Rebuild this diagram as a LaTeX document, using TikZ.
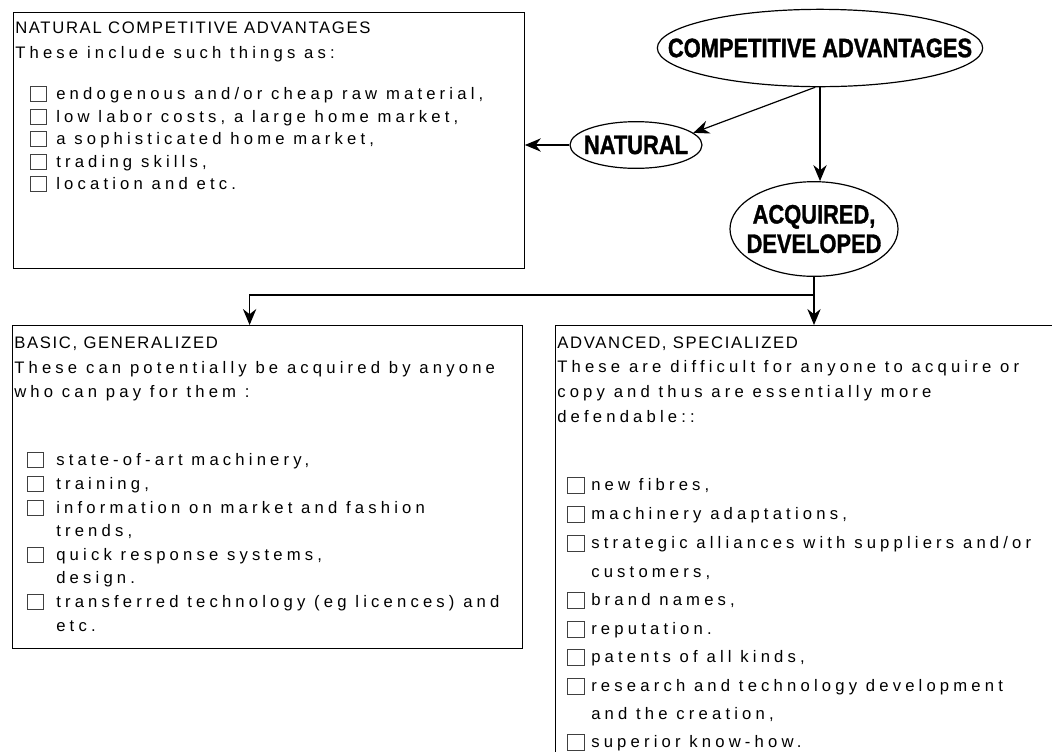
\documentclass[tikz,border=0pt]{standalone}
\usepackage{fontspec}
\setmainfont{Liberation Sans}
\newfontfamily\bodyfont[LetterSpace=25]{Liberation Sans}
\newfontfamily\headfont[LetterSpace=10]{Liberation Sans}
\newfontfamily\ovalfont[FakeStretch=0.82, FakeBold=1.2]{Liberation Sans}
\usetikzlibrary{shapes.geometric, arrows.meta}

\begin{document}
\begin{tikzpicture}[
    x=0.75pt, y=-0.75pt,
    oval/.style={draw, ellipse, line width=0.9pt, inner sep=0pt},
    ovaltext/.style={inner sep=0pt, align=center,
        font=\ovalfont\bfseries\fontsize{20}{22}\selectfont},
    panel/.style={draw, line width=0.9pt, anchor=north west, inner sep=0pt},
    txt/.style={anchor=base west, inner sep=0pt, font=\bodyfont\fontsize{12.5}{18}\selectfont},
    head/.style={anchor=base west, inner sep=0pt, font=\headfont\fontsize{12.5}{18}\selectfont},
    chk/.style={draw=black!75, line width=0.5pt, inner sep=0pt,
        minimum width=12pt, minimum height=11pt},
    link/.style={line width=0.9pt, -{Stealth[length=12pt, width=10pt]}},
]
\useasboundingbox (0,0) rectangle (1052,751);

% boxes
\node[panel, minimum width=383pt, minimum height=192pt] (natbox) at (13,12) {};
\node[panel, minimum width=382.5pt, minimum height=242pt] (basicbox) at (12,325) {};
\node[panel, minimum width=450pt, minimum height=375pt] (advbox) at (555,325) {};

% ovals
\node[oval, minimum width=244pt, minimum height=58pt] (ca) at (820,48) {};
\node[ovaltext] (catext) at (ca) {COMPETITIVE ADVANTAGES};
\node[oval, minimum width=99pt, minimum height=35pt] (nat) at (636,145) {};
\node[ovaltext] (nattext) at (nat) {NATURAL};
\node[oval, minimum width=126pt, minimum height=71pt] (acq) at (814,229) {};
\node[ovaltext] (acqtext) at (acq) {ACQUIRED,\\DEVELOPED};

% links
\draw[link] (ca.-97) -- (nat.12);
\draw[link] (ca.south) -- (ca.south |- acq.north);
\draw[link] (nat.west) -- (natbox.east |- nat.west);
\draw[line width=0.9pt] (acq.south) -- ++(0,18) coordinate (fork);
\draw[link] (fork) -| ([xshift=-13.5pt]basicbox.north);
\draw[link] (fork) -- (fork |- advbox.north);

% natural
\node[head] (nathead) at (15,33) {NATURAL COMPETITIVE ADVANTAGES};
\node[txt] (natintro) at (15,58) {These include such things as:};
\foreach \yy/\txt [count=\i] in {
    99/{endogenous and/or cheap raw material,},
    122/{low labor costs, a large home market,},
    144/{a sophisticated home market,},
    167/{trading skills,},
    189/{location and etc.}}
{
    \node[chk] (natchk\i) at (38,\yy-5) {};
    \node[txt] (natitem\i) at (56,\yy) {\txt};
}

% basic
\node[head] (basichead) at (14,348) {BASIC, GENERALIZED};
\node[txt] (basicintro) at (14,373) {These can potentially be acquired by anyone};
\node[txt] (basicintrob) at (14,397) {who can pay for them :};
\foreach \yy/\txt/\bx [count=\i] in {
    465/{state-of-art machinery,}/1,
    489/{training,}/1,
    513/{information on market and fashion}/1,
    536/{trends,}/0,
    560/{quick response systems,}/1,
    583/{design.}/0,
    607/{transferred technology (eg licences) and}/1,
    631/{etc.}/0}
{
    \node[txt] (basicitem\i) at (56,\yy) {\txt};
    \ifnum\bx=1 \node[chk] (basicchk\i) at (35,\yy-5) {}; \fi
}

% advanced
\node[head] (advhead) at (557,348) {ADVANCED, SPECIALIZED};
\node[txt] (advintro) at (557,372) {These are difficult for anyone to acquire or};
\node[txt] (advintrob) at (557,397) {copy and thus are essentially more};
\node[txt] (advintroc) at (557,422) {defendable::};
\foreach \yy/\txt/\bx [count=\i] in {
    490/{new fibres,}/1,
    519/{machinery adaptations,}/1,
    548/{strategic alliances with suppliers and/or}/1,
    577/{customers,}/0,
    605/{brand names,}/1,
    634/{reputation.}/1,
    662/{patents of all kinds,}/1,
    691/{research and technology development}/1,
    719/{and the creation,}/0,
    747/{superior know-how.}/1}
{
    \node[txt] (advitem\i) at (591,\yy) {\txt};
    \ifnum\bx=1 \node[chk, minimum width=12.5pt, minimum height=12pt] (advchk\i) at (576,\yy-5) {}; \fi
}

\end{tikzpicture}
\end{document}
